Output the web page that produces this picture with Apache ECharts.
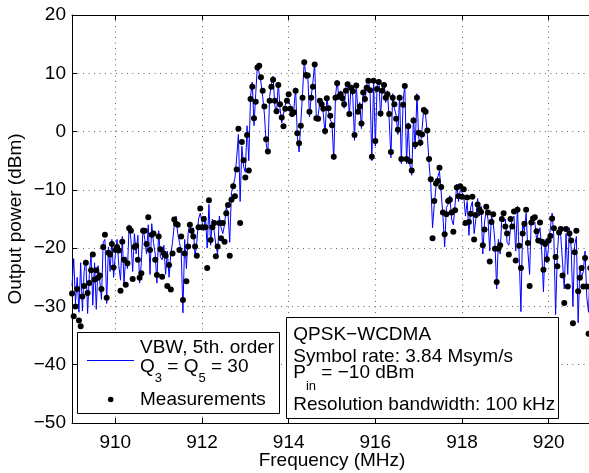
<!DOCTYPE html>
<html><head><meta charset="utf-8">
<script src="https://cdn.jsdelivr.net/npm/echarts@6/dist/echarts.min.js"></script>
<style>html,body{margin:0;padding:0;background:#fff}#c{width:589px;height:473px}</style>
</head><body><div id="c"></div>
<script>
const freqMHz = [
909.00,909.04,909.08,909.12,909.16,909.20,909.24,909.28,909.32,909.36,909.40,909.44,909.48,909.52,909.56,909.60,909.64,909.68,909.72,909.76,909.80,909.84,909.88,909.92,909.96,
910.00,910.04,910.08,910.12,910.16,910.20,910.24,910.28,910.32,910.36,910.40,910.44,910.48,910.52,910.56,910.60,910.64,910.68,910.72,910.76,910.80,910.84,910.88,910.92,910.96,
911.00,911.04,911.08,911.12,911.16,911.20,911.24,911.28,911.32,911.36,911.40,911.44,911.48,911.52,911.56,911.60,911.64,911.68,911.72,911.76,911.80,911.84,911.88,911.92,911.96,
912.00,912.04,912.08,912.12,912.16,912.20,912.24,912.28,912.32,912.36,912.40,912.44,912.48,912.52,912.56,912.60,912.64,912.68,912.72,912.76,912.80,912.84,912.88,912.92,912.96,
913.00,913.04,913.08,913.12,913.16,913.20,913.24,913.28,913.32,913.36,913.40,913.44,913.48,913.52,913.56,913.60,913.64,913.68,913.72,913.76,913.80,913.84,913.88,913.92,913.96,
914.00,914.04,914.08,914.12,914.16,914.20,914.24,914.28,914.32,914.36,914.40,914.44,914.48,914.52,914.56,914.60,914.64,914.68,914.72,914.76,914.80,914.84,914.88,914.92,914.96,
915.00,915.04,915.08,915.12,915.16,915.20,915.24,915.28,915.32,915.36,915.40,915.44,915.48,915.52,915.56,915.60,915.64,915.68,915.72,915.76,915.80,915.84,915.88,915.92,915.96,
916.00,916.04,916.08,916.12,916.16,916.20,916.24,916.28,916.32,916.36,916.40,916.44,916.48,916.52,916.56,916.60,916.64,916.68,916.72,916.76,916.80,916.84,916.88,916.92,916.96,
917.00,917.04,917.08,917.12,917.16,917.20,917.24,917.28,917.32,917.36,917.40,917.44,917.48,917.52,917.56,917.60,917.64,917.68,917.72,917.76,917.80,917.84,917.88,917.92,917.96,
918.00,918.04,918.08,918.12,918.16,918.20,918.24,918.28,918.32,918.36,918.40,918.44,918.48,918.52,918.56,918.60,918.64,918.68,918.72,918.76,918.80,918.84,918.88,918.92,918.96,
919.00,919.04,919.08,919.12,919.16,919.20,919.24,919.28,919.32,919.36,919.40,919.44,919.48,919.52,919.56,919.60,919.64,919.68,919.72,919.76,919.80,919.84,919.88,919.92,919.96,
920.00,920.04,920.08,920.12,920.16,920.20,920.24,920.28,920.32,920.36,920.40,920.44,920.48,920.52,920.56,920.60,920.64,920.68,920.72,920.76,920.80,920.84,920.88,920.92,920.96
];
const measuredDbm = [
-27.8,-31.7,-30.0,-27.0,-32.4,-33.4,-28.3,-26.5,-22.5,-27.7,-26.0,-23.8,-21.1,-25.4,-23.8,-25.1,-24.7,-27.0,-19.8,-17.7,-28.5,-20.8,-21.1,-19.3,-23.3,
-20.3,-19.8,-20.4,-27.3,-18.9,-22.0,-26.3,-22.6,-16.6,-17.0,-25.3,-19.8,-19.6,-22.0,-25.1,-24.3,-17.0,-17.0,-19.3,-14.7,-20.3,-17.7,-17.5,-22.0,-24.6,
-18.0,-20.2,-24.9,-20.9,-21.3,-26.5,-22.9,-27.1,-20.9,-15.1,-15.8,-16.0,-20.3,-18.0,-28.9,-20.9,-25.7,-19.7,-16.0,-17.0,-18.0,-19.7,-21.3,-16.4,-13.2,
-16.4,-15.0,-16.4,-23.4,-11.8,-18.6,-16.4,-15.7,-21.4,-19.7,-15.7,-18.3,-15.7,-18.9,-14.0,-12.6,-21.3,-11.7,-9.4,-11.1,-6.5,0.5,-15.7,-1.8,-4.9,
-7.9,-0.6,-6.7,5.6,7.7,2.3,5.1,11.0,11.3,9.3,7.0,4.3,-1.3,-3.4,5.3,7.7,8.9,5.3,3.5,8.0,4.7,2.4,0.9,3.9,5.3,
6.4,3.9,3.0,3.3,7.0,-0.3,-2.0,1.0,5.8,11.9,9.7,9.6,3.4,5.8,7.7,11.5,2.3,2.2,5.3,4.7,3.9,0.1,5.7,4.0,2.7,
1.1,-4.3,5.8,8.3,6.0,6.4,5.7,4.7,7.0,8.1,3.0,7.5,6.9,-0.6,7.9,3.4,4.3,1.4,6.7,5.6,7.5,8.7,7.1,-4.3,8.7,
-1.6,7.3,8.5,3.1,7.0,8.0,5.8,6.4,3.0,-3.5,5.8,4.7,2.2,0.3,5.8,-4.7,4.6,7.8,-4.7,0.9,-5.1,-6.7,1.9,-2.2,5.8,
-0.2,-1.9,-0.5,3.7,3.4,0.2,-4.7,-8.2,-18.3,-11.9,-8.9,-8.5,-6.2,-9.5,-13.9,-17.6,-14.2,-11.9,-11.7,-13.9,-17.2,-13.5,-9.6,-11.1,-9.4,
-11.2,-9.9,-15.7,-11.3,-15.5,-14.1,-11.2,-18.5,-14.3,-12.5,-13.4,-13.8,-19.5,-16.8,-12.9,-13.9,-22.3,-15.5,-14.2,-20.1,-25.8,-20.1,-19.5,-15.0,-14.0,
-16.3,-17.5,-21.1,-15.0,-16.3,-13.7,-22.1,-13.4,-19.6,-23.4,-17.5,-15.8,-13.4,-19.1,-26.5,-15.6,-14.9,-14.7,-17.1,-18.7,-15.6,-18.9,-23.7,-19.3,-21.9,
-18.7,-17.9,-14.9,-16.6,-21.5,-23.1,-17.3,-16.7,-24.7,-29.4,-16.7,-26.6,-17.5,-18.7,-32.9,-20.7,-17.0,-27.4,-25.1,-23.4,-26.6,-21.7,-26.6,-34.7,-23.4
];
const modelDbm = [
-26.5,-21.8,-29.5,-25.0,-31.0,-22.5,-30.8,-24.0,-22.0,-31.2,-24.5,-21.0,-29.8,-22.5,-30.5,-23.0,-25.5,-28.8,-19.0,-18.5,-29.5,-19.8,-24.0,-18.5,-25.0,
-21.0,-18.5,-23.0,-25.5,-18.0,-26.0,-21.5,-23.5,-16.0,-18.5,-24.0,-17.5,-21.0,-17.8,-26.0,-22.5,-16.5,-18.5,-21.0,-16.0,-24.5,-15.8,-19.0,-21.0,-26.0,
-17.0,-21.5,-22.0,-19.5,-24.5,-20.5,-25.0,-21.0,-19.0,-16.0,-14.5,-17.5,-19.0,-20.5,-31.1,-18.5,-23.5,-17.5,-15.5,-18.0,-16.5,-21.5,-19.0,-15.0,-14.0,
-15.5,-17.0,-14.5,-20.0,-12.5,-19.5,-15.0,-17.0,-19.5,-21.0,-14.5,-16.5,-17.5,-16.0,-13.0,-14.0,-19.0,-10.5,-10.5,-8.0,-4.5,-0.5,-12.0,-2.5,-6.0,
-7.0,1.0,-5.0,6.0,8.5,1.0,6.5,11.5,11.8,8.5,6.0,3.0,-2.0,-3.8,6.0,8.0,9.5,4.5,3.0,8.5,4.0,1.5,1.5,4.5,5.8,
6.0,4.5,2.5,3.8,7.5,-0.8,-3.5,1.5,6.5,12.3,9.0,10.0,2.5,6.0,8.5,11.8,2.0,2.8,5.0,5.5,3.0,-0.5,6.0,3.5,2.0,
1.5,-4.8,6.0,8.8,5.5,7.0,5.0,4.0,7.5,8.5,2.5,8.0,6.0,-1.5,8.2,3.0,5.0,0.5,7.0,5.0,8.0,9.0,6.5,-5.0,9.0,
-2.5,7.8,9.0,2.5,7.5,8.5,5.0,7.0,2.0,-4.5,6.5,4.0,2.8,-0.5,6.3,-5.5,5.0,8.2,-5.5,1.5,-5.8,-7.5,2.5,-3.0,6.5,
-1.0,-2.5,0.5,4.2,2.8,-0.5,-5.5,-9.0,-16.5,-12.5,-9.5,-7.8,-6.8,-10.5,-14.5,-19.8,-13.0,-12.5,-11.0,-15.0,-16.0,-12.5,-9.0,-12.0,-10.0,
-10.5,-11.0,-14.5,-12.0,-17.8,-13.0,-12.0,-17.5,-15.0,-11.5,-14.5,-12.8,-21.0,-15.5,-13.5,-15.0,-20.5,-14.5,-15.5,-19.0,-27.0,-18.5,-21.0,-14.5,-15.5,
-15.0,-19.0,-19.5,-16.5,-15.0,-14.5,-20.5,-12.8,-21.5,-30.9,-16.0,-17.0,-14.0,-20.5,-24.5,-14.5,-16.0,-15.5,-18.5,-17.5,-16.5,-20.5,-27.5,-18.5,-22.5,
-19.5,-16.5,-14.0,-18.0,-31.4,-21.0,-16.5,-18.0,-22.5,-27.0,-17.5,-24.5,-16.5,-20.0,-30.0,-19.5,-18.0,-32.8,-23.5,-25.0,-24.0,-20.5,-28.5,-31.0,-22.0
];
const xTicks = [910, 912, 914, 916, 918, 920];
const yTicks = [-50, -40, -30, -20, -10, 0, 10, 20];

const FONT = '"Liberation Sans", Arial, Helvetica, sans-serif';
const ctx = document.createElement('canvas').getContext('2d');
function tw(t, size) { ctx.font = size + 'px ' + FONT; return ctx.measureText(t).width; }
function txt(t, x, y, size) {
  return { type: 'text', x: x, y: y, z: 101, silent: true,
    style: { text: t, font: size + 'px ' + FONT, fill: '#000',
      textAlign: 'left', textVerticalAlign: 'middle', align: 'left', verticalAlign: 'middle' } };
}
function runs(parts, x0, yMain, ySub, size, subSize) {
  let x = x0; const out = [];
  parts.forEach(p => {
    const s = p[1] ? subSize : size;
    out.push(txt(p[0], x, p[1] ? ySub : yMain, s));
    x += tw(p[0], s);
  });
  return out;
}

const TS = 19;
const graphics = [
  { type: 'rect', z: 100, shape: { x: 77.5, y: 332.5, width: 202, height: 81 },
    style: { fill: '#fff', stroke: '#000', lineWidth: 1 } },
  { type: 'line', z: 101, shape: { x1: 87, y1: 360.5, x2: 134, y2: 360.5 },
    style: { stroke: '#0000ff', lineWidth: 1 } },
  { type: 'circle', z: 101, shape: { cx: 110.7, cy: 399.5, r: 2.8 }, style: { fill: '#000' } },
  txt('VBW, 5th. order', 140, 347.5, TS),
  ...runs([['Q', 0], ['3', 1], [' = Q', 0], ['5', 1], [' = 30', 0]], 140, 367, 378.5, TS, 13),
  txt('Measurements', 140, 400, TS),
  { type: 'rect', z: 100, shape: { x: 286.5, y: 317.5, width: 272, height: 101 },
    style: { fill: '#fff', stroke: '#000', lineWidth: 1 } },
  txt('QPSK\u2212WCDMA', 293.3, 334.5, TS),
  txt('Symbol rate: 3.84 Msym/s', 293.3, 356.3, TS),
  ...runs([['P', 0], ['in', 1], [' = \u221210 dBm', 0]], 293.3, 373, 386, TS, 13),
  txt('Resolution bandwidth: 100 kHz', 293.3, 404.5, TS)
];

const chart = echarts.init(document.getElementById('c'), null, { renderer: 'canvas' });
const gridLine = { show: true, lineStyle: { color: '#666', type: [1, 4.5], width: 1 } };
chart.setOption({
  animation: false,
  backgroundColor: '#fff',
  grid: { left: 72, top: 15, right: -3, bottom: 50, containLabel: false, outerBoundsMode: 'none' },
  xAxis: [{
    type: 'value', min: 909, max: 921, position: 'bottom',
    axisLine: { show: true, onZero: false, lineStyle: { color: '#000', width: 1 } },
    axisTick: { show: true, inside: true, length: 5, customValues: xTicks, lineStyle: { color: '#000' } },
    axisLabel: { customValues: xTicks, color: '#000', fontSize: TS, fontFamily: FONT, margin: 10 },
    splitLine: gridLine,
    name: 'Frequency (MHz)', nameLocation: 'middle', nameGap: 28, nameMoveOverlap: false,
    nameTextStyle: { color: '#000', fontSize: TS, fontFamily: FONT }
  }, {
    type: 'value', min: 909, max: 921, position: 'top',
    axisLine: { show: true, onZero: false, lineStyle: { color: '#000', width: 1 } },
    axisTick: { show: true, inside: true, length: 5, customValues: xTicks, lineStyle: { color: '#000' } },
    axisLabel: { show: false }, splitLine: { show: false }
  }],
  yAxis: {
    type: 'value', min: -50, max: 20, interval: 10,
    axisLine: { show: true, onZero: false, lineStyle: { color: '#000', width: 1 } },
    axisTick: { show: true, inside: true, length: 5, lineStyle: { color: '#000' } },
    axisLabel: { color: '#000', fontSize: TS, fontFamily: FONT, margin: 6,
      formatter: v => String(v).replace('-', '\u2212') },
    splitLine: gridLine,
    name: 'Output power (dBm)', nameLocation: 'middle', nameGap: 47, nameMoveOverlap: false,
    nameTextStyle: { color: '#000', fontSize: TS, fontFamily: FONT }
  },
  series: [{
    name: 'VBW, 5th. order', type: 'line', xAxisIndex: 0,
    data: freqMHz.map((f, i) => [f, modelDbm[i]]),
    showSymbol: false, symbol: 'none', lineStyle: { color: '#0000ff', width: 1 }, z: 2
  }, {
    name: 'Measurements', type: 'scatter', xAxisIndex: 0,
    data: freqMHz.map((f, i) => [f, measuredDbm[i]]),
    symbol: 'circle', symbolSize: 6, itemStyle: { color: '#000', opacity: 1 }, z: 3
  }],
  graphic: graphics
});
</script>
</body></html>
